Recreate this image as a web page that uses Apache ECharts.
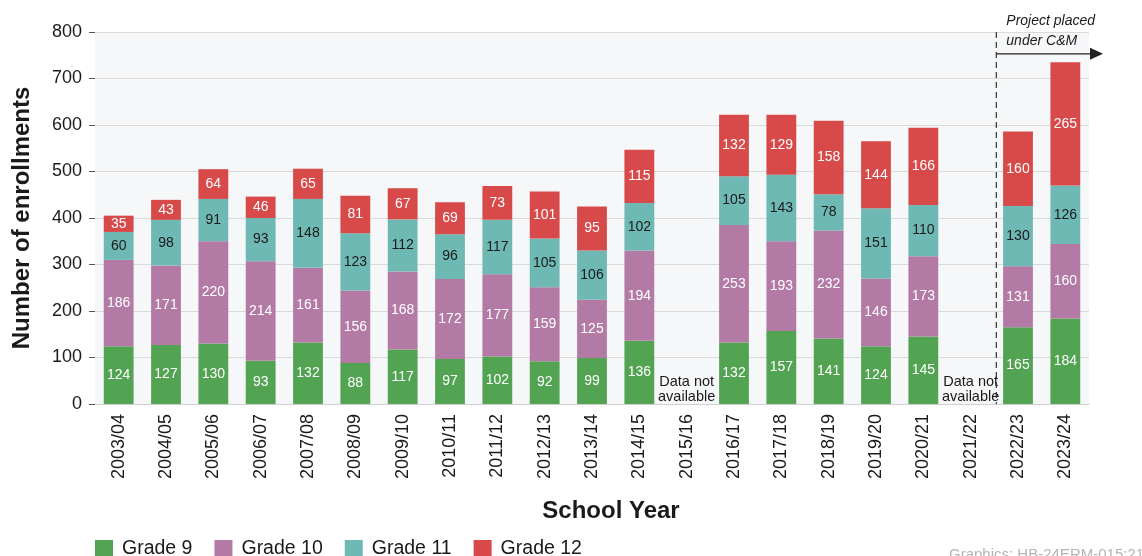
<!DOCTYPE html>
<html>
<head>
<meta charset="utf-8">
<script src="https://cdn.jsdelivr.net/npm/echarts@6/dist/echarts.min.js"></script>
<style>
  html, body { margin: 0; padding: 0; background: #ffffff; }
  #chart { width: 1142px; height: 556px; }
</style>
</head>
<body>
<div id="chart"></div>
<script>
// School years on the category axis
const years = ['2003/04','2004/05','2005/06','2006/07','2007/08','2008/09','2009/10','2010/11',
  '2011/12','2012/13','2013/14','2014/15','2015/16','2016/17','2017/18','2018/19','2019/20',
  '2020/21','2021/22','2022/23','2023/24'];

// Enrollments per grade (null = no data reported that year)
const grade9  = [124,127,130,93,132,88,117,97,102,92,99,136,null,132,157,141,124,145,null,165,184];
const grade10 = [186,171,220,214,161,156,168,172,177,159,125,194,null,253,193,232,146,173,null,131,160];
const grade11 = [60,98,91,93,148,123,112,96,117,105,106,102,null,105,143,78,151,110,null,130,126];
const grade12 = [35,43,64,46,65,81,67,69,73,101,95,115,null,132,129,158,144,166,null,160,265];

const yTicks = [0,100,200,300,400,500,600,700,800];
const missingYears = ['2015/16','2021/22'];
const cmStartYear = '2022/23';

const FONT = '"Liberation Sans", Arial, Helvetica, sans-serif';

const chart = echarts.init(document.getElementById('chart'), null, { renderer: 'canvas' });

function gradeSeries(name, data, color, labelColor) {
  return {
    name: name,
    type: 'bar',
    stack: 'total',
    data: data,
    barWidth: '63%',
    itemStyle: { color: color },
    label: {
      show: true,
      position: 'inside',
      color: labelColor,
      fontFamily: FONT,
      fontSize: 14,
      formatter: p => (p.value == null ? '' : String(p.value))
    },
    emphasis: { disabled: true }
  };
}

chart.setOption({
  animation: false,
  textStyle: { fontFamily: FONT },
  grid: {
    left: 95, right: 53, top: 32, bottom: 152,
    show: true, backgroundColor: '#f6f7f9', borderWidth: 0
  },
  legend: {
    left: 90, top: 534,
    itemWidth: 18, itemHeight: 18, itemGap: 22,
    icon: 'rect',
    textStyle: { fontSize: 19.5, color: '#1a1a1a', fontFamily: FONT, padding: [0, 0, 0, 4] },
    data: ['Grade 9', 'Grade 10', 'Grade 11', 'Grade 12']
  },
  xAxis: {
    type: 'category',
    data: years,
    axisLine: { show: true, lineStyle: { color: '#d0d0d0' } },
    axisTick: { show: false },
    axisLabel: { rotate: 90, fontSize: 18, color: '#1a1a1a', margin: 10, fontFamily: FONT, interval: 0 }
  },
  yAxis: {
    type: 'value',
    min: yTicks[0], max: yTicks[yTicks.length - 1], interval: 100,
    axisLine: { show: false },
    axisTick: { show: true, length: 6, lineStyle: { color: '#555' } },
    axisLabel: { fontSize: 18, color: '#1a1a1a', margin: 13, fontFamily: FONT },
    splitLine: { lineStyle: { color: '#dadada', width: 1 } }
  },
  series: [
    gradeSeries('Grade 9', grade9, '#52a453', '#ffffff'),
    gradeSeries('Grade 10', grade10, '#b47aa6', '#ffffff'),
    gradeSeries('Grade 11', grade11, '#6fb9b4', '#1a1a1a'),
    gradeSeries('Grade 12', grade12, '#d8494a', '#ffffff')
  ]
});

// Annotations placed from the axes' own scales
const px = (cat, val) => chart.convertToPixel({ gridIndex: 0 }, [cat, val]);
const y0 = px(years[0], 0)[1];
const yTop = px(years[0], 800)[1];
const iStart = years.indexOf(cmStartYear);
const xDiv = (px(years[iStart - 1], 0)[0] + px(years[iStart], 0)[0]) / 2 + 2;
const yArrow = px(years[0], 753)[1];
const xArrowEnd = 1103;

const graphics = [];

missingYears.forEach(y => {
  const p = px(y, 31);
  graphics.push({
    type: 'text', x: p[0], y: p[1], z: 10,
    style: {
      text: 'Data not\navailable', fill: '#1a1a1a', font: '14.5px ' + FONT,
      textAlign: 'center', textVerticalAlign: 'middle', lineHeight: 15
    }
  });
});

graphics.push(
  {
    type: 'line', z: 10,
    shape: { x1: xDiv, y1: yTop, x2: xDiv, y2: y0 },
    style: { stroke: '#333', lineWidth: 1.2, lineDash: [6, 4] }
  },
  {
    type: 'line', z: 10,
    shape: { x1: xDiv, y1: yArrow, x2: xArrowEnd - 12, y2: yArrow },
    style: { stroke: '#222', lineWidth: 1.3 }
  },
  {
    type: 'polygon', z: 10,
    shape: { points: [[xArrowEnd - 13, yArrow - 6], [xArrowEnd, yArrow], [xArrowEnd - 13, yArrow + 6]] },
    style: { fill: '#222' }
  },
  {
    type: 'text', x: xDiv + 10, y: 31, z: 10,
    style: {
      text: 'Project placed\nunder C&M', fill: '#1a1a1a', font: 'italic 14px ' + FONT,
      textAlign: 'left', textVerticalAlign: 'middle', lineHeight: 20
    }
  },
  {
    type: 'text', x: 22, y: (y0 + yTop) / 2, rotation: Math.PI / 2, z: 10,
    style: {
      text: 'Number of enrollments', fill: '#1a1a1a', font: 'bold 24px ' + FONT,
      textAlign: 'center', textVerticalAlign: 'middle'
    }
  },
  {
    type: 'text', x: 611, y: 511, z: 10,
    style: {
      text: 'School Year', fill: '#1a1a1a', font: 'bold 24px ' + FONT,
      textAlign: 'center', textVerticalAlign: 'middle'
    }
  },
  {
    type: 'text', x: 949, y: 547, z: 10,
    style: {
      text: 'Graphics: HB-24ERM-015:21', fill: '#b4b4b4', font: '15px ' + FONT,
      textAlign: 'left', textVerticalAlign: 'top'
    }
  }
);

chart.setOption({ graphic: graphics });
</script>
</body>
</html>
